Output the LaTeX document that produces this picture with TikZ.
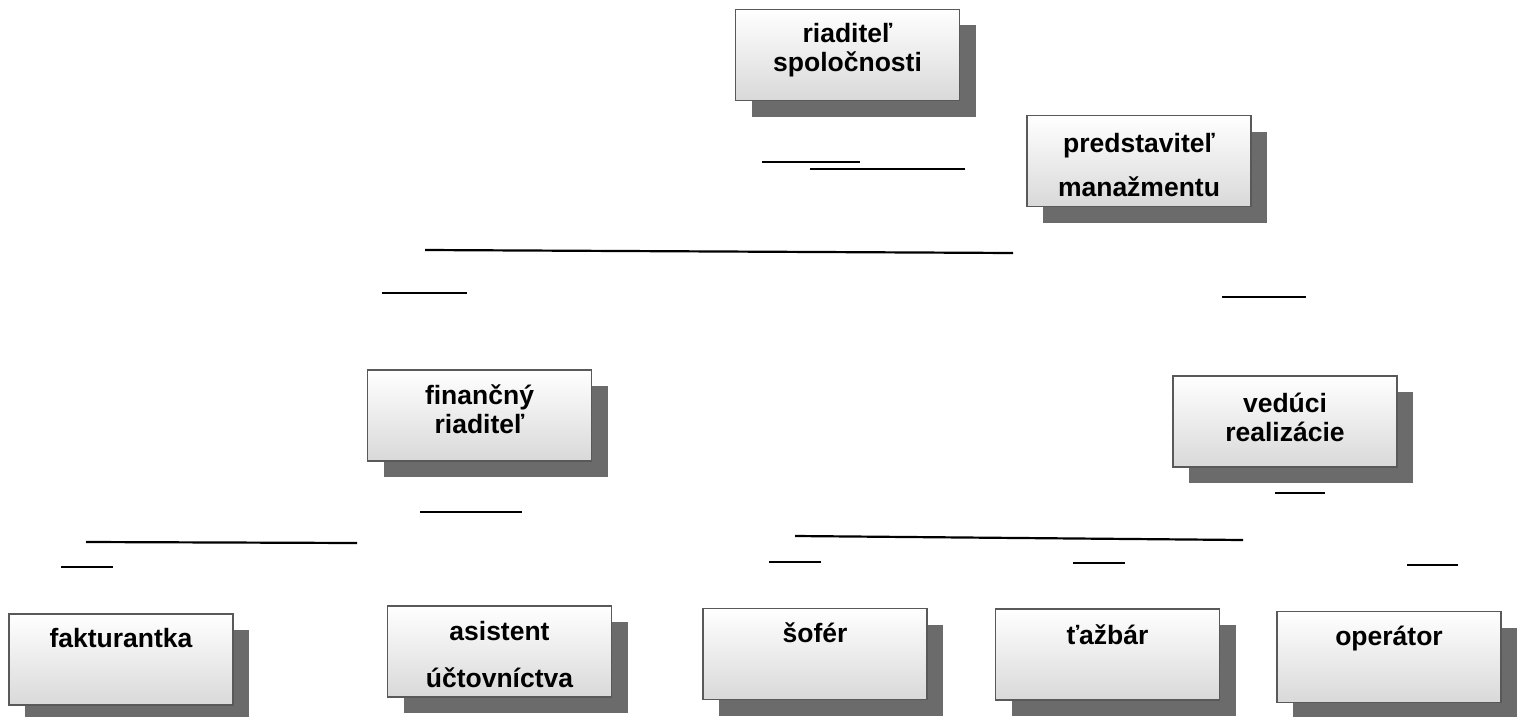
\documentclass[tikz,border=0pt]{standalone}
\usepackage{fontspec}
\setmainfont{Liberation Sans}
\usetikzlibrary{shadows}

\begin{document}
\begin{tikzpicture}
	[x=1pt, y=-1pt,
	post/.style={draw=black!65, line width=1.2pt, top color=white, bottom color=black!15,
		minimum width=224pt, minimum height=91pt, inner sep=0pt,
		drop shadow={opacity=1, fill=black!58, shadow xshift=16pt, shadow yshift=-16pt}},
	title/.style={font=\fontsize{26.5}{29}\selectfont\bfseries, align=center, anchor=base, inner sep=0pt},
	stub/.style={line width=2.2pt}]

	\useasboundingbox (0,0) rectangle (1517,717);

	\node[post] (riaditel)      at (847.5,55)   {};
	\node[post] (predstavitel)  at (1139,161)   {};
	\node[post] (financny)      at (479.5,415.5) {};
	\node[post] (veduci)        at (1285,421.5) {};
	\node[post] (fakturantka)   at (121,659.5)  {};
	\node[post] (asistent)      at (499.5,651.5) {};
	\node[post] (sofer)         at (815,654)    {};
	\node[post] (tazbar)        at (1107.5,654.5) {};
	\node[post] (operator)      at (1389,657)   {};

	% base anchor sits on the last line
	\node[title] (riaditel_t)     at ([yshift=-63pt]riaditel.north)     {riaditeľ\\spoločnosti};
	\node[title] (predstavitel_t) at ([yshift=-82pt]predstavitel.north) {predstaviteľ\\[15pt]manažmentu};
	\node[title] (financny_t)     at ([yshift=-64pt]financny.north)     {finančný\\riaditeľ};
	\node[title] (veduci_t)       at ([yshift=-66pt]veduci.north)       {vedúci\\realizácie};
	\node[title] (fakturantka_t)  at ([yshift=-34pt]fakturantka.north)  {fakturantka};
	\node[title] (asistent_t)     at ([yshift=-82pt]asistent.north)     {asistent\\[18pt]účtovníctva};
	\node[title] (sofer_t)        at ([yshift=-35pt]sofer.north)        {šofér};
	\node[title] (tazbar_t)       at ([yshift=-36pt]tazbar.north)       {ťažbár};
	\node[title] (operator_t)     at ([yshift=-35pt]operator.north)     {operátor};

	\foreach \n/\xa/\ya/\xb/\yb in {a/762/162/860/162, b/810/169/965/169, c/425/250/1013/253,
		d/382/293/467/293, e/1222/297/1306/297, f/420/512/522/512, g/1275/493/1325/493,
		h/795/536/1243/540, i/1407/565/1458/565, j/86/542/357/543, k/61/567/113/567,
		l/769/562/821/562, m/1073/563/1125/563}
	{
		\coordinate (seg_\n_start) at (\xa,\ya);
		\coordinate (seg_\n_end)   at (\xb,\yb);
		\draw [stub] (seg_\n_start) -- (seg_\n_end);
	}
\end{tikzpicture}
\end{document}
